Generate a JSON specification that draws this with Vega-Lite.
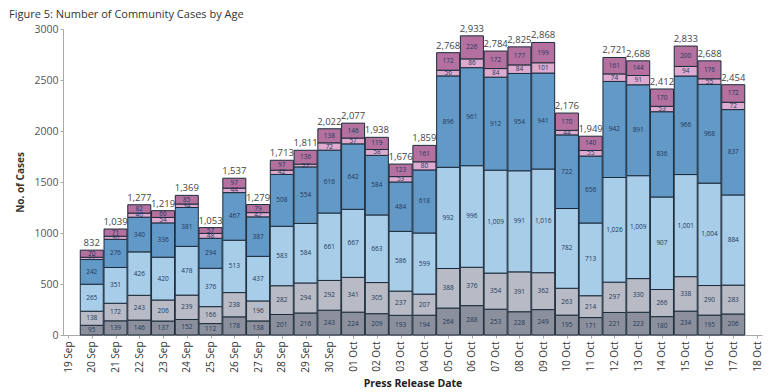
{
  "$schema": "https://vega.github.io/schema/vega-lite/v6.json",
  "width": 699,
  "height": 306,
  "autosize": {"type": "none"},
  "padding": {"left": 63, "top": 29, "right": 11, "bottom": 57},
  "background": "white",
  "config": {"font": "Open Sans", "view": {"stroke": null}},
  "title": {"text": "Figure 5: Number of Community Cases by Age", "anchor": "start", "frame": "group", "dx": -54, "fontSize": 11, "fontWeight": "normal", "color": "#333333", "offset": 4},
  "data": {"values": [
    {"d": "2021-09-20", "70+": 95, "60-69": 138, "40-59": 265, "20-39": 242, "12-19": 22, "0-11": 70},
    {"d": "2021-09-21", "70+": 139, "60-69": 172, "40-59": 351, "20-39": 276, "12-19": 30, "0-11": 71},
    {"d": "2021-09-22", "70+": 146, "60-69": 243, "40-59": 426, "20-39": 340, "12-19": 40, "0-11": 82},
    {"d": "2021-09-23", "70+": 137, "60-69": 206, "40-59": 420, "20-39": 336, "12-19": 54, "0-11": 66},
    {"d": "2021-09-24", "70+": 152, "60-69": 239, "40-59": 478, "20-39": 381, "12-19": 34, "0-11": 85},
    {"d": "2021-09-25", "70+": 112, "60-69": 166, "40-59": 376, "20-39": 294, "12-19": 48, "0-11": 57},
    {"d": "2021-09-26", "70+": 178, "60-69": 238, "40-59": 513, "20-39": 467, "12-19": 44, "0-11": 97},
    {"d": "2021-09-27", "70+": 138, "60-69": 196, "40-59": 437, "20-39": 387, "12-19": 42, "0-11": 79},
    {"d": "2021-09-28", "70+": 201, "60-69": 282, "40-59": 583, "20-39": 508, "12-19": 42, "0-11": 97},
    {"d": "2021-09-29", "70+": 216, "60-69": 294, "40-59": 584, "20-39": 554, "12-19": 27, "0-11": 136},
    {"d": "2021-09-30", "70+": 243, "60-69": 292, "40-59": 661, "20-39": 616, "12-19": 72, "0-11": 138},
    {"d": "2021-10-01", "70+": 224, "60-69": 341, "40-59": 667, "20-39": 642, "12-19": 57, "0-11": 146},
    {"d": "2021-10-02", "70+": 209, "60-69": 305, "40-59": 663, "20-39": 584, "12-19": 58, "0-11": 119},
    {"d": "2021-10-03", "70+": 193, "60-69": 237, "40-59": 586, "20-39": 484, "12-19": 53, "0-11": 123},
    {"d": "2021-10-04", "70+": 194, "60-69": 207, "40-59": 599, "20-39": 618, "12-19": 80, "0-11": 161},
    {"d": "2021-10-05", "70+": 264, "60-69": 388, "40-59": 992, "20-39": 896, "12-19": 56, "0-11": 172},
    {"d": "2021-10-06", "70+": 288, "60-69": 376, "40-59": 996, "20-39": 961, "12-19": 86, "0-11": 226},
    {"d": "2021-10-07", "70+": 253, "60-69": 354, "40-59": 1009, "20-39": 912, "12-19": 84, "0-11": 172},
    {"d": "2021-10-08", "70+": 228, "60-69": 391, "40-59": 991, "20-39": 954, "12-19": 84, "0-11": 177},
    {"d": "2021-10-09", "70+": 249, "60-69": 362, "40-59": 1016, "20-39": 941, "12-19": 101, "0-11": 199},
    {"d": "2021-10-10", "70+": 195, "60-69": 263, "40-59": 782, "20-39": 722, "12-19": 44, "0-11": 170},
    {"d": "2021-10-11", "70+": 171, "60-69": 214, "40-59": 713, "20-39": 656, "12-19": 55, "0-11": 140},
    {"d": "2021-10-12", "70+": 221, "60-69": 297, "40-59": 1026, "20-39": 942, "12-19": 74, "0-11": 161},
    {"d": "2021-10-13", "70+": 223, "60-69": 330, "40-59": 1009, "20-39": 891, "12-19": 91, "0-11": 144},
    {"d": "2021-10-14", "70+": 180, "60-69": 266, "40-59": 907, "20-39": 836, "12-19": 53, "0-11": 170},
    {"d": "2021-10-15", "70+": 234, "60-69": 338, "40-59": 1001, "20-39": 966, "12-19": 94, "0-11": 200},
    {"d": "2021-10-16", "70+": 195, "60-69": 290, "40-59": 1004, "20-39": 968, "12-19": 55, "0-11": 176},
    {"d": "2021-10-17", "70+": 206, "60-69": 283, "40-59": 884, "20-39": 837, "12-19": 72, "0-11": 172}
  ]},
  "transform": [{"fold": ["70+", "60-69", "40-59", "20-39", "12-19", "0-11"], "as": ["age", "cases"]}],
  "encoding": {
    "x": {
      "field": "d", "type": "temporal",
      "scale": {"type": "utc", "nice": false, "domain": [{"year": 2021, "month": 9, "date": 19, "utc": true}, {"year": 2021, "month": 10, "date": 18, "utc": true}]},
      "axis": {"tickCount": {"interval": "day", "step": 1}, "format": "%d %b", "labelAngle": 270, "labelOverlap": false, "labelFlush": false, "labelFontSize": 10, "labelColor": "#333333", "labelPadding": 3, "grid": false, "domainColor": "#aaaaaa", "tickColor": "#aaaaaa", "tickSize": 3, "title": "Press Release Date", "titleFontSize": 10.5, "titleFontWeight": "bold", "titleColor": "#222222", "titlePadding": 6}
    }
  },
  "layer": [
    {
      "mark": {"type": "bar", "width": 23, "stroke": "#1c2b3a", "strokeWidth": 1},
      "encoding": {
        "y": {"field": "cases", "type": "quantitative", "stack": "zero", "scale": {"domain": [0, 3000], "nice": false},
          "axis": {"values": [0, 500, 1000, 1500, 2000, 2500, 3000], "format": "d", "grid": false, "domainColor": "#aaaaaa", "tickColor": "#aaaaaa", "tickSize": 3, "labelPadding": 2, "labelFontSize": 10.5, "labelColor": "#555555", "title": "No. of Cases", "titleFontSize": 10, "titleFontWeight": "bold", "titleColor": "#333333", "titlePadding": 8}},
        "color": {"field": "age", "type": "nominal", "scale": {"domain": ["70+", "60-69", "40-59", "20-39", "12-19", "0-11"], "range": ["#8c909c", "#b8bbc5", "#a8cde9", "#6399c7", "#deaad0", "#b4719f"]}, "legend": null},
        "order": {"field": "age", "sort": "descending"}
      }
    },
    {
      "transform": [
        {"stack": "cases", "groupby": ["d"], "sort": [{"field": "age", "order": "descending"}], "as": ["y0", "y1"]},
        {"fold": ["y0", "y1"], "as": ["edge", "pos"]}
      ],
      "mark": {"type": "text", "fontSize": 6.5, "color": "#22385a", "baseline": "middle"},
      "encoding": {
        "y": {"aggregate": "mean", "field": "pos", "type": "quantitative"},
        "detail": {"field": "age"},
        "text": {"field": "cases", "type": "quantitative", "format": ","}
      }
    },
    {
      "mark": {"type": "text", "fontSize": 9.5, "color": "#444444", "dy": -7},
      "encoding": {
        "y": {"aggregate": "sum", "field": "cases", "type": "quantitative"},
        "text": {"aggregate": "sum", "field": "cases", "type": "quantitative", "format": ","}
      }
    }
  ]
}
